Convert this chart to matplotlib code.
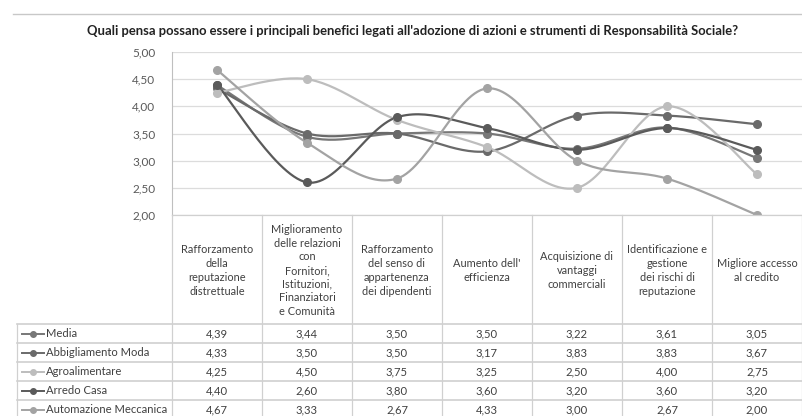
import numpy as np
import matplotlib.pyplot as plt
from matplotlib.lines import Line2D

plt.rcParams['font.family'] = ['Lato', 'DejaVu Sans']

# Data
title = "Quali pensa possano essere i principali benefici legati all'adozione di azioni e strumenti di Responsabilità Sociale?"
categories = [
    "Rafforzamento\ndella\nreputazione\ndistrettuale",
    "Miglioramento\ndelle relazioni\ncon\nFornitori,\nIstituzioni,\nFinanziatori\ne Comunità",
    "Rafforzamento\ndel senso di\nappartenenza\ndei dipendenti",
    "Aumento dell'\nefficienza",
    "Acquisizione di\nvantaggi\ncommerciali",
    "Identificazione e\ngestione\ndei rischi di\nreputazione",
    "Migliore accesso\nal credito",
]
series_names = ["Media", "Abbigliamento Moda", "Agroalimentare", "Arredo Casa", "Automazione Meccanica"]
media = [4.39, 3.44, 3.50, 3.50, 3.22, 3.61, 3.05]
abbigliamento = [4.33, 3.50, 3.50, 3.17, 3.83, 3.83, 3.67]
agroalimentare = [4.25, 4.50, 3.75, 3.25, 2.50, 4.00, 2.75]
arredo = [4.40, 2.60, 3.80, 3.60, 3.20, 3.60, 3.20]
automazione = [4.67, 3.33, 2.67, 4.33, 3.00, 2.67, 2.00]
series_values = [media, abbigliamento, agroalimentare, arredo, automazione]
colors = ["#777777", "#6a6a6a", "#bdbdbd", "#5a5a5a", "#a3a3a3"]
yticks = [2.0, 2.5, 3.0, 3.5, 4.0, 4.5, 5.0]


def smooth(y, n=30):
    # Excel-like smoothed line (Catmull-Rom as cubic Bezier)
    y = np.asarray(y, dtype=float)
    x = np.arange(len(y), dtype=float)
    px, py = [], []
    for i in range(len(y) - 1):
        i0, i3 = max(i - 1, 0), min(i + 2, len(y) - 1)
        p0 = np.array([x[i], y[i]])
        p3 = np.array([x[i + 1], y[i + 1]])
        c1 = p0 + (np.array([x[i + 1], y[i + 1]]) - np.array([x[i0], y[i0]])) / 6
        c2 = p3 - (np.array([x[i3], y[i3]]) - np.array([x[i], y[i]])) / 6
        t = np.linspace(0, 1, n)[:, None]
        pts = (1 - t) ** 3 * p0 + 3 * (1 - t) ** 2 * t * c1 + 3 * (1 - t) * t ** 2 * c2 + t ** 3 * p3
        px.extend(pts[:, 0])
        py.extend(pts[:, 1])
    return np.array(px), np.array(py)


W, H = 802, 416
fig = plt.figure(figsize=(W / 100, H / 100), dpi=100)

def fx(px):
    return px / W

def fy(py):
    return 1 - py / H

x0, x1 = 172, 802
y_top, y_bot = 52, 215
ax = fig.add_axes([fx(x0), fy(y_bot), fx(x1 - x0), (y_bot - y_top) / H])
ax.set_xlim(-0.5, len(categories) - 0.5)
ax.set_ylim(2, 5)
for y in yticks:
    ax.axhline(y, color="#dcdcdc", lw=0.9, zorder=0)
for s, vals, c in zip(series_names, series_values, colors):
    sx, sy = smooth(vals)
    ax.plot(sx, sy, color=c, lw=1.6, zorder=2)
    ax.plot(range(len(vals)), vals, "o", color=c, ms=5.5, zorder=3)
ax.set_yticks(yticks)
ax.set_yticklabels([f"{v:.2f}".replace(".", ",") for v in yticks], fontsize=8.5, color="#595959")
ax.tick_params(axis="y", length=0, pad=12)
ax.set_xticks([])
for sp in ["top", "right", "bottom"]:
    ax.spines[sp].set_visible(False)
ax.spines["left"].set_color("#bfbfbf")

# top rule and title
fig.add_artist(Line2D([fx(13), fx(802)], [fy(14), fy(14)], color="#c8c8c8", lw=1))
fig.text(fx(413), fy(31), title, ha="center", va="center", fontsize=9.4, fontweight="bold", color="#222222")

# data table
col_w = (x1 - x0) / len(categories)
row_h = 19
head_bot = 324
leg_x = 17
grid_c = "#d0d0d0"
# vertical lines
for k in range(len(categories) + 1):
    xx = x0 + k * col_w
    fig.add_artist(Line2D([fx(xx), fx(xx)], [fy(y_bot), fy(H)], color=grid_c, lw=0.9))
fig.add_artist(Line2D([fx(leg_x), fx(leg_x)], [fy(head_bot), fy(H)], color=grid_c, lw=0.9))
fig.add_artist(Line2D([fx(x0), fx(x1)], [fy(y_bot), fy(y_bot)], color=grid_c, lw=0.9))
for r in range(len(series_names) + 1):
    yy = head_bot + r * row_h
    fig.add_artist(Line2D([fx(leg_x), fx(x1)], [fy(yy), fy(yy)], color=grid_c, lw=1.2))

for k, cat in enumerate(categories):
    fig.text(fx(x0 + (k + 0.5) * col_w), fy((y_bot + head_bot) / 2 + 1), cat, ha="center", va="center",
             fontsize=7.9, color="#404040", linespacing=1.3)

for r, (s, vals, c) in enumerate(zip(series_names, series_values, colors)):
    yc = fy(head_bot + (r + 0.5) * row_h)
    fig.add_artist(Line2D([fx(22), fx(44)], [yc, yc], color=c, lw=1.4))
    fig.add_artist(Line2D([fx(33)], [yc], color=c, marker="o", ms=4))
    fig.text(fx(46), yc, s, ha="left", va="center", fontsize=8.1, color="#404040")
    for k, v in enumerate(vals):
        fig.text(fx(x0 + (k + 0.5) * col_w), yc, f"{v:.2f}".replace(".", ","), ha="center", va="center",
                 fontsize=8.1, color="#404040")

fig.savefig("out.png", dpi=100)
